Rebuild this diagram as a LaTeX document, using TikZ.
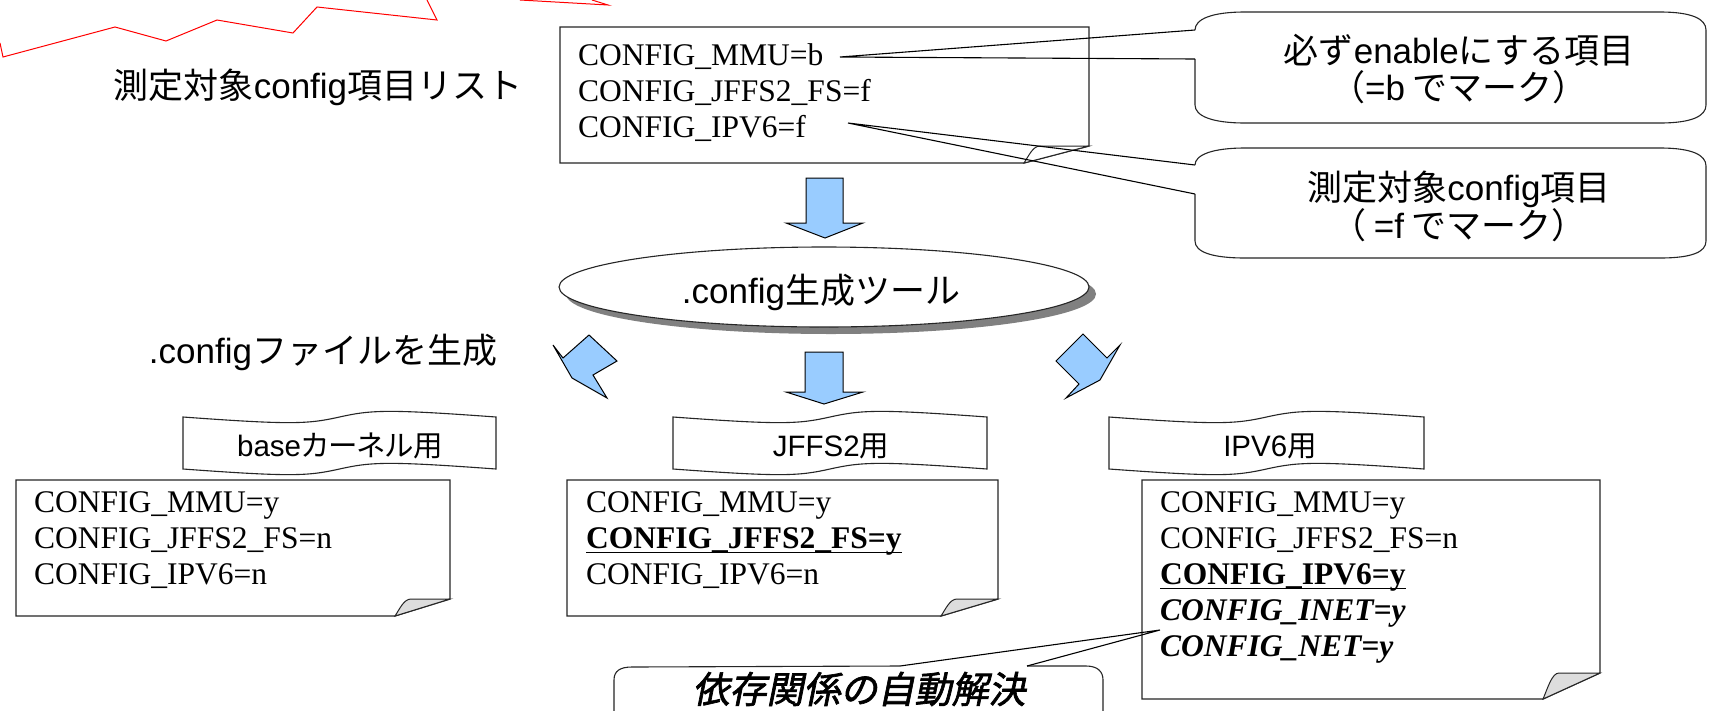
\documentclass[tikz,border=0pt]{standalone}
\usepackage{fontspec}
\setmainfont{Liberation Serif}
\newfontfamily\jp{Noto Sans CJK JP}
\newfontfamily\jpp[RawFeature=+palt]{Noto Sans CJK JP}
\newfontfamily\jpbi[FakeSlant=0.2,FakeBold=1.8]{Noto Sans CJK JP}
\newfontfamily\lat{Liberation Sans}
\newcommand\latn[1]{{\lat #1}}
\definecolor{arrowblue}{HTML}{99CCFF}
\definecolor{flapgray}{HTML}{DDDDDD}
\definecolor{shadowgray}{HTML}{808080}

\tikzset{
  cfg/.style={anchor=base west, inner sep=0pt, font=\fontsize{31.5}{36}\selectfont},
  cfgb/.style={anchor=base west, inner sep=0pt, font=\bfseries\fontsize{31.5}{36}\selectfont},
  cfgbi/.style={anchor=base west, inner sep=0pt, font=\bfseries\itshape\fontsize{31.5}{36}\selectfont},
  jlabel/.style={anchor=base, inner sep=0pt, font=\jp\fontsize{35}{40}\selectfont},
  tablabel/.style={anchor=base, inner sep=0pt, font=\jpp\fontsize{29.5}{34}\selectfont},
  boxline/.style={draw=black!85, line width=1.3pt, line join=miter},
  flap/.style={draw=black!85, fill=flapgray, line width=1pt},
  blockarrow/.style={draw=black, fill=arrowblue, line width=1pt, line join=miter},
  callout/.style={draw=black!85, fill=white, line width=1.1pt},
  pointer/.style={draw=black, line width=1.1pt},
  tabline/.style={draw=black!85, fill=white, line width=1.1pt},
  uline/.style={draw=black, line width=1.8pt},
}

% note box with a folded lower right corner: x0 y0 x1 y1 dx dy flapcolour
\newcommand\notebox[7]{%
  \filldraw[boxline, fill=white] (#1,#2) -- (#3,#2) -- (#3,#4-#6) -- (#3-#5,#4) -- (#1,#4) -- cycle;
  \filldraw[flap, fill=#7] (#3-#5,#4) .. controls (#3-#5+5,#4-#6*0.45) and (#3-#5+9,#4-#6) .. (#3-#5+16,#4-#6) -- (#3,#4-#6) -- cycle;
}

% punched-tape label: x0 x1 top bottom
\newcommand\tapetab[4]{%
  \pgfmathsetmacro\tw{#2-#1}
  \pgfmathsetmacro\tm{(#1+#2)/2}
  \filldraw[tabline]
    (#1,#3) .. controls (#1+0.35*\tw,#3+8) and (\tm-0.1*\tw,#3+7) .. (\tm,#3)
            .. controls (\tm+0.1*\tw,#3-7) and (#2-0.35*\tw,#3-8) .. (#2,#3)
    -- (#2,#4) .. controls (#2-0.35*\tw,#4-8) and (\tm+0.1*\tw,#4-7) .. (\tm,#4)
            .. controls (\tm-0.1*\tw,#4+7) and (#1+0.35*\tw,#4+8) .. (#1,#4) -- cycle;
}

\begin{document}
\begin{tikzpicture}[x=1pt,y=-1pt]
\useasboundingbox (0,0) rectangle (1710,710);
\clip (0,0) rectangle (1710,710);
\fill[white] (0,0) rectangle (1710,710);

% red outline running off the top edge
\draw[red, line width=1pt, line join=miter]
  (0,43) -- (3,57) -- (115,27) -- (166,41) -- (217,20) -- (293,33) -- (317,7) -- (437,20) -- (427,0);
\draw[red, line width=1pt, line join=miter] (520,0) -- (608,5) -- (592,0);

% list of items to measure
\node[jlabel] (listtitle) at (318,98) {測定対象\latn{config}項目リスト};
\notebox{560}{27}{1089}{163}{65}{17}{white}
\node[cfg] (tA1) at (578,65) {CONFIG\_MMU=b};
\node[cfg] (tA2) at (578,101) {CONFIG\_JFFS2\_FS=f};
\node[cfg] (tA3) at (578,137) {CONFIG\_IPV6=f};
\coordinate (tipA) at (840,57);
\coordinate (tipB) at (848,123);

% callout: always enabled items
\filldraw[callout] (1195,59) -- (1195,105) .. controls (1195,116) and (1212,123) .. (1245,123)
  -- (1660,123) .. controls (1692,123) and (1706,116) .. (1706,105) -- (1706,30)
  .. controls (1706,19) and (1692,12) .. (1660,12) -- (1245,12)
  .. controls (1212,12) and (1195,19) .. (1195,30);
\coordinate (cA1) at (1195,30);
\coordinate (cA2) at (1195,59);
\draw[pointer] (cA1) -- (tipA) -- (cA2);
\node[jlabel] (cAt1) at (1459,63) {必ず\latn{enable}にする項目};
\node[jlabel] (cAt2) at (1459,100) {（\latn{=b} でマーク）};

% callout: measured items
\filldraw[callout] (1195,194) -- (1195,241) .. controls (1195,252) and (1212,258) .. (1245,258)
  -- (1660,258) .. controls (1692,258) and (1706,252) .. (1706,241) -- (1706,166)
  .. controls (1706,155) and (1692,148) .. (1660,148) -- (1245,148)
  .. controls (1212,148) and (1195,155) .. (1195,165);
\coordinate (cB1) at (1195,165);
\coordinate (cB2) at (1195,194);
\draw[pointer] (cB1) -- (tipB) -- (cB2);
\node[jlabel] (cBt1) at (1459,200) {測定対象\latn{config}項目};
\node[jlabel] (cBt2) at (1459,238) {（ \latn{=f} でマーク）};

% arrow into the generator
\filldraw[blockarrow] (806,178) -- (843,178) -- (843,223) -- (863,223) -- (825,238) -- (786,223) -- (806,223) -- cycle;

% generator tool
\fill[shadowgray] (831,294) ellipse [x radius=265, y radius=40];
\filldraw[draw=black!85, fill=white, line width=1.1pt] (824,287) ellipse [x radius=265, y radius=40];
\node[jlabel] (tool) at (821,303) {\latn{.config}生成ツール};

\node[jlabel] (gen) at (323,363) {\latn{.config}ファイルを生成};

% three arrows out of the generator
\filldraw[blockarrow] (589,335) -- (617,361) -- (593,375) -- (607,398) -- (572,378) -- (553,345) -- (563,358) -- cycle;
\filldraw[blockarrow] (805,352) -- (843,352) -- (843,392) -- (863,392) -- (824,404) -- (786,392) -- (805,392) -- cycle;
\filldraw[blockarrow] (1083,334) -- (1107,358) -- (1120,345) -- (1100,380) -- (1066,398) -- (1079,384) -- (1056,361) -- cycle;

% labels of the generated files
\tapetab{183}{496}{417}{469}
\node[tablabel] (tabL) at (340,456) {\latn{base}カーネル用};
\tapetab{673}{987}{417}{469}
\node[tablabel] (tabC) at (831,456) {\latn{JFFS2}用};
\tapetab{1109}{1424}{417}{469}
\node[tablabel] (tabR) at (1270,456) {\latn{IPV6}用};

% base kernel
\notebox{16}{480}{450}{616}{55}{17}{flapgray}
\node[cfg] (tL1) at (34,512) {CONFIG\_MMU=y};
\node[cfg] (tL2) at (34,548) {CONFIG\_JFFS2\_FS=n};
\node[cfg] (tL3) at (34,584) {CONFIG\_IPV6=n};

% JFFS2
\notebox{567}{480}{998}{616}{57}{17}{flapgray}
\node[cfg] (tC1) at (586,512) {CONFIG\_MMU=y};
\node[cfgb] (tC2) at (586,548) {CONFIG\_JFFS2\_FS=y};
\draw[uline] ([yshift=-4.5pt]tC2.base west) -- ([yshift=-4.5pt]tC2.base east);
\node[cfg] (tC3) at (586,584) {CONFIG\_IPV6=n};

% IPV6
\notebox{1142}{480}{1600}{699}{57}{26}{flapgray}
\node[cfg] (tR1) at (1160,512) {CONFIG\_MMU=y};
\node[cfg] (tR2) at (1160,548) {CONFIG\_JFFS2\_FS=n};
\node[cfgb] (tR3) at (1160,584) {CONFIG\_IPV6=y};
\draw[uline] ([yshift=-4.5pt]tR3.base west) -- ([yshift=-4.5pt]tR3.base east);
\node[cfgbi] (tR4) at (1160,620) {CONFIG\_INET=y};
\node[cfgbi] (tR5) at (1160,656) {CONFIG\_NET=y};
\coordinate (tipC) at (1160,630);

% callout: automatic dependency resolution
\filldraw[callout] (1027,666) -- (1086,666) .. controls (1097,666) and (1103,671) .. (1103,680) -- (1103,740)
  -- (614,740) -- (614,680) .. controls (614,671) and (620,667) .. (632,667) -- (900,666);
\coordinate (cC1) at (900,666);
\coordinate (cC2) at (1027,666);
\draw[pointer] (cC1) -- (tipC) -- (cC2);
\node[anchor=base, inner sep=0pt, font=\jpbi\fontsize{37}{42}\selectfont] (dep) at (859,703) {依存関係の自動解決};
\end{tikzpicture}
\end{document}
